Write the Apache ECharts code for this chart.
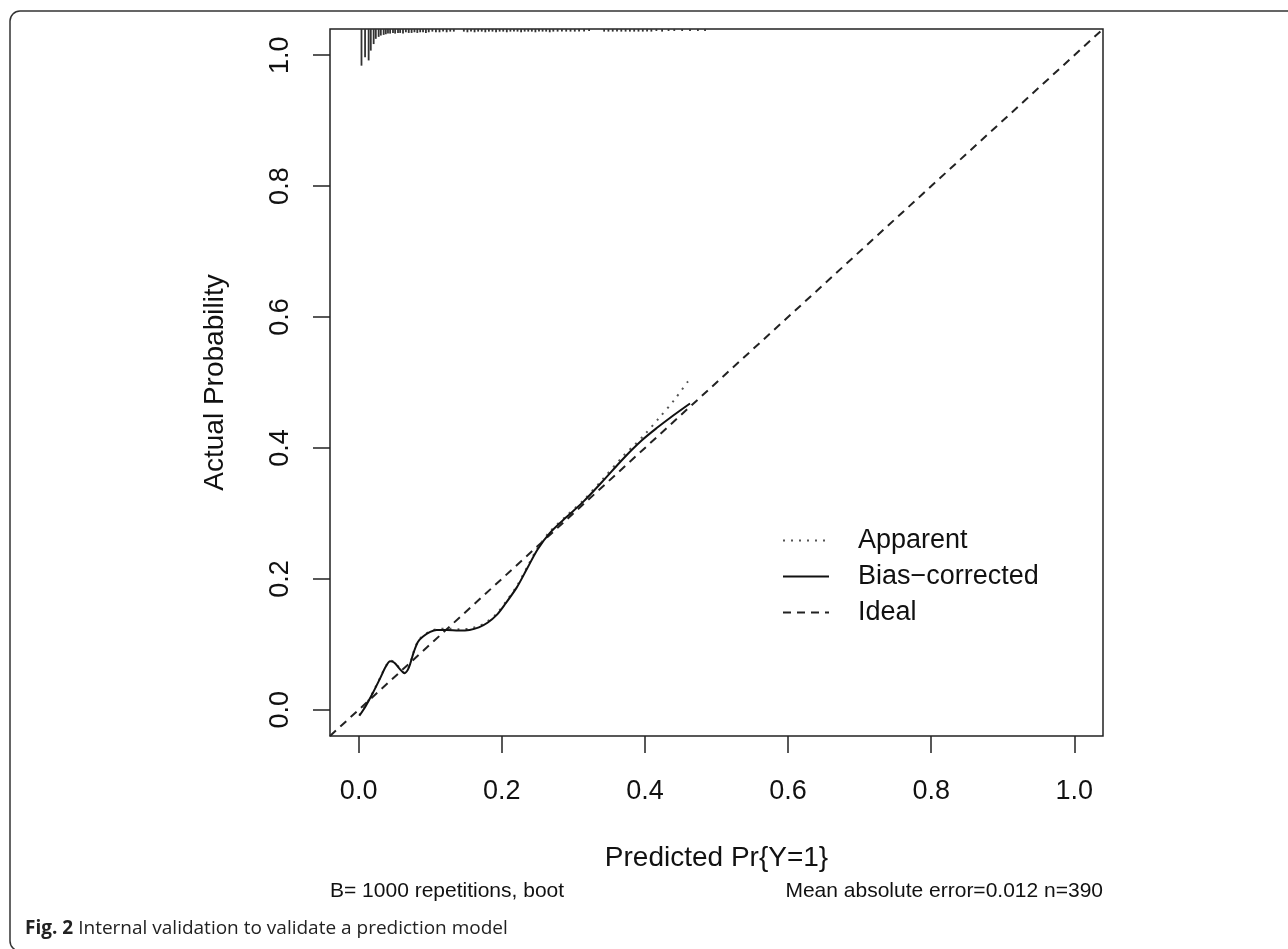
<!DOCTYPE html>
<html>
<head>
<meta charset="utf-8">
<script src="https://cdn.jsdelivr.net/npm/echarts@6/dist/echarts.min.js"></script>
<style>
html,body{margin:0;padding:0;background:#fff;}
#main{width:1288px;height:949px;}
</style>
</head>
<body>
<div id="main"></div>
<script>
// ---- data ----
const xTicks = [0, 0.2, 0.4, 0.6, 0.8, 1.0];
const yTicks = [0, 0.2, 0.4, 0.6, 0.8, 1.0];

const biasX = [0.001,0.010,0.020,0.030,0.038,0.044,0.050,0.057,0.064,0.070,0.077,0.083,0.090,0.100,0.109,0.123,0.140,0.155,0.168,0.180,0.193,0.205,0.221,0.235,0.250,0.267,0.290,0.314,0.340,0.370,0.395,0.416,0.440,0.463];
const biasY = [-0.009,0.006,0.026,0.048,0.066,0.074,0.072,0.063,0.056,0.064,0.088,0.104,0.112,0.119,0.122,0.122,0.121,0.122,0.126,0.133,0.145,0.162,0.187,0.215,0.245,0.270,0.294,0.318,0.348,0.384,0.411,0.430,0.450,0.468];

const apparentX = [0.001,0.010,0.020,0.030,0.038,0.044,0.050,0.057,0.064,0.070,0.077,0.083,0.090,0.100,0.109,0.123,0.140,0.155,0.168,0.180,0.193,0.205,0.221,0.235,0.250,0.267,0.290,0.314,0.340,0.370,0.385,0.400,0.420,0.440,0.463];
const apparentY = [-0.008,0.007,0.027,0.049,0.067,0.075,0.073,0.064,0.057,0.065,0.089,0.105,0.113,0.120,0.123,0.124,0.123,0.124,0.128,0.135,0.147,0.164,0.189,0.217,0.247,0.272,0.296,0.320,0.351,0.388,0.404,0.421,0.446,0.472,0.506];

const idealX = [-0.04, 1.04];
const idealY = [-0.04, 1.04];

const rugX = [0.004,0.009,0.014,0.017,0.021,0.024,0.028,0.031,0.035,0.038,0.041,0.044,0.048,0.051,0.055,0.058,0.062,0.066,0.070,0.074,0.078,0.082,0.086,0.090,0.094,0.098,0.103,0.108,0.113,0.118,0.123,0.128,0.133,
  0.147,0.152,0.157,0.162,0.167,0.172,0.177,0.182,0.187,0.192,0.197,0.202,0.207,0.212,0.217,0.222,0.227,0.232,0.237,0.242,0.247,0.252,0.257,0.262,0.267,0.272,0.278,0.284,0.290,0.296,0.302,0.308,0.315,0.322,
  0.343,0.349,0.355,0.361,0.367,0.373,0.379,0.385,0.391,0.397,0.403,0.409,0.416,0.424,0.433,0.441,0.452,0.463,0.474,0.484];
const rugH = [0.056,0.043,0.048,0.033,0.023,0.015,0.012,0.010,0.009,0.008,0.007,0.007,0.006,0.007,0.006,0.006,0.007,0.005,0.006,0.006,0.005,0.006,0.005,0.005,0.006,0.005,0.004,0.005,0.005,0.004,0.005,0.004,0.004,
  0.004,0.005,0.004,0.005,0.004,0.004,0.005,0.004,0.004,0.005,0.004,0.004,0.005,0.004,0.004,0.004,0.005,0.004,0.004,0.004,0.005,0.004,0.004,0.004,0.005,0.004,0.004,0.004,0.004,0.004,0.004,0.004,0.004,0.003,
  0.004,0.004,0.004,0.004,0.004,0.004,0.004,0.004,0.004,0.004,0.004,0.004,0.003,0.004,0.003,0.003,0.003,0.003,0.003,0.003];

const zip = (a, b) => a.map((v, i) => [v, b[i]]);

const FONT = '"Liberation Sans", Arial, sans-serif';
const chart = echarts.init(document.getElementById('main'), null, {renderer: 'canvas'});

const option = {
  backgroundColor: '#fff',
  animation: false,
  graphic: [{
    type: 'rect', silent: true,
    shape: {x: 10, y: 11, width: 1300, height: 940, r: 10},
    style: {fill: 'none', stroke: '#333', lineWidth: 1.5}
  }],
  title: [
    {text: 'B= 1000 repetitions, boot', left: 330, top: 881,
     textStyle: {fontFamily: FONT, fontSize: 21, fontWeight: 'normal', color: '#111'}, padding: 0},
    {text: 'Mean absolute error=0.012 n=390', right: 185, top: 881,
     textStyle: {fontFamily: FONT, fontSize: 21, fontWeight: 'normal', color: '#111'}, padding: 0},
    {text: '{b|Fig. 2} {n|Internal validation to validate a prediction model}', left: 25, top: 919, padding: 0,
     textStyle: {rich: {
       b: {fontFamily: '"Open Sans", sans-serif', fontWeight: 'bold', fontSize: 19, color: '#222'},
       n: {fontFamily: '"Open Sans", sans-serif', fontWeight: 'normal', fontSize: 19, color: '#222'}
     }}}
  ],
  legend: {
    orient: 'vertical', left: 777, top: 522,
    itemWidth: 46, itemHeight: 27, itemGap: 9,
    itemStyle: {opacity: 0},
    data: ['Apparent', 'Bias\u2212corrected', 'Ideal'],
    textStyle: {fontFamily: FONT, fontSize: 27, color: '#111', padding: [0, 0, 0, 24]}
  },
  grid: {left: 330, top: 29, width: 773, height: 707, show: true,
         borderColor: '#222', borderWidth: 1.5, backgroundColor: 'transparent', containLabel: false},
  xAxis: {
    type: 'value', min: -0.04, max: 1.04,
    name: 'Predicted Pr{Y=1}', nameLocation: 'middle', nameGap: 108,
    nameTextStyle: {fontFamily: FONT, fontSize: 28, color: '#111'},
    axisLine: {show: false, onZero: false},
    splitLine: {show: false},
    axisTick: {show: true, inside: false, length: 17, customValues: xTicks, lineStyle: {color: '#222', width: 1.5}},
    axisLabel: {customValues: xTicks, margin: 42, fontFamily: FONT, fontSize: 27, color: '#111',
                formatter: v => v.toFixed(1)}
  },
  yAxis: {
    type: 'value', min: -0.04, max: 1.04,
    name: 'Actual Probability', nameLocation: 'middle', nameGap: 101,
    nameTextStyle: {fontFamily: FONT, fontSize: 28, color: '#111'},
    axisLine: {show: false, onZero: false},
    splitLine: {show: false},
    axisTick: {show: true, inside: false, length: 17, customValues: yTicks, lineStyle: {color: '#222', width: 1.5}},
    axisLabel: {customValues: yTicks, margin: 36, rotate: 90, fontFamily: FONT, fontSize: 27, color: '#111',
                formatter: v => v.toFixed(1)}
  },
  series: [
    {
      name: 'Apparent', type: 'line', data: zip(apparentX, apparentY),
      showSymbol: false, symbol: 'none', smooth: 0.3, z: 3,
      lineStyle: {color: '#555', width: 2, type: [2, 6]}, itemStyle: {color: '#555'}
    },
    {
      name: 'Bias\u2212corrected', type: 'line', data: zip(biasX, biasY),
      showSymbol: false, symbol: 'none', smooth: 0.3, z: 4,
      lineStyle: {color: '#111', width: 2, type: 'solid'}, itemStyle: {color: '#111'}
    },
    {
      name: 'Ideal', type: 'line', data: zip(idealX, idealY),
      showSymbol: false, symbol: 'none', z: 2,
      lineStyle: {color: '#222', width: 2, type: [8, 6]}, itemStyle: {color: '#222'}
    },
    {
      name: 'rug', type: 'custom', data: zip(rugX, rugH), z: 5, silent: true,
      renderItem: function (params, api) {
        const x = api.value(0), h = api.value(1);
        const p1 = api.coord([x, 1.04]);
        const p2 = api.coord([x, 1.04 - h]);
        return {type: 'line', shape: {x1: p1[0], y1: p1[1], x2: p2[0], y2: p2[1]},
                style: {stroke: '#333', lineWidth: 1.8}};
      }
    }
  ]
};
chart.setOption(option);
</script>
</body>
</html>
